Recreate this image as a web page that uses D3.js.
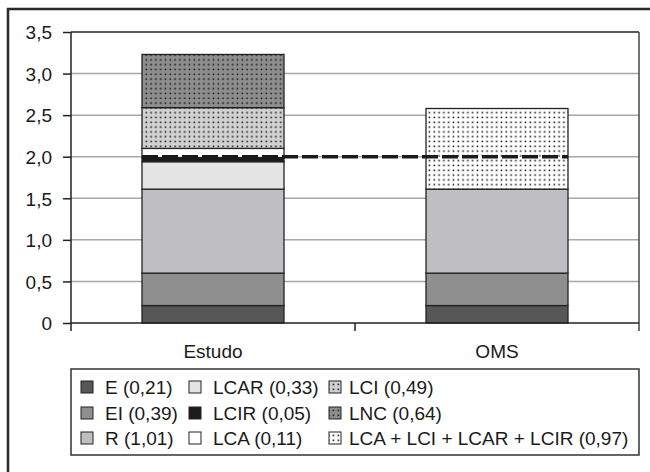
<!DOCTYPE html>
<html>
<head>
<meta charset="utf-8">
<script src="https://cdn.jsdelivr.net/npm/d3@7"></script>
<style>
  body { margin: 0; background: #fff; }
  svg text { font-family: "Liberation Sans", Arial, sans-serif; fill: #1a1a1a; }
</style>
</head>
<body>
<svg id="chart" width="650" height="472"></svg>
<script>
// data
let categories = ["Estudo", "OMS"];
let estudoKeys = ["E", "EI", "R", "LCAR", "LCIR", "LCA", "LCI", "LNC"];
let estudoVals = [0.21, 0.39, 1.01, 0.33, 0.05, 0.11, 0.49, 0.64];
let omsKeys = ["E", "EI", "R", "SUM"];
let omsVals = [0.21, 0.39, 1.01, 0.97];
let legendLabels = [
  ["E", "E (0,21)"], ["EI", "EI (0,39)"], ["R", "R (1,01)"],
  ["LCAR", "LCAR (0,33)"], ["LCIR", "LCIR (0,05)"], ["LCA", "LCA (0,11)"],
  ["LCI", "LCI (0,49)"], ["LNC", "LNC (0,64)"], ["SUM", "LCA + LCI + LCAR + LCIR (0,97)"]
];
let yTicks = [0, 0.5, 1, 1.5, 2, 2.5, 3, 3.5];
let target = 2.0;

let fills = {
  E: "#575757", EI: "#8f8f8f", R: "#bfbfc1", LCAR: "#e4e4e4",
  LCIR: "#1c1c1c", LCA: "#ffffff",
  LCI: "url(#dotsLCI)", LNC: "url(#dotsLNC)", SUM: "url(#dotsSUM)"
};

let svg = d3.select("#chart");
let margin = { left: 71, right: 11, top: 32, bottom: 149 };
let width = 650, height = 472;
let fontSize = 19;

// patterns
let defs = svg.append("defs");
[["dotsLCI", "#d2d2d2"], ["dotsLNC", "#8e8e8e"], ["dotsSUM", "#ffffff"]].forEach(p => {
  let pat = defs.append("pattern")
    .attr("id", p[0])
    .attr("patternUnits", "userSpaceOnUse")
    .attr("width", 4.8).attr("height", 4.8);
  pat.append("rect").attr("width", 4.8).attr("height", 4.8).attr("fill", p[1]);
  pat.append("rect").attr("x", 1.5).attr("y", 1.5).attr("width", 1.6).attr("height", 1.6).attr("fill", "#1a1a1a");
});

// outer frame (top + left)
svg.append("path")
  .attr("d", "M8,472 L8,9 L650,9")
  .attr("fill", "none").attr("stroke", "#2a2a2a").attr("stroke-width", 2.5);

let x = d3.scaleBand()
  .domain(categories)
  .range([margin.left, width - margin.right])
  .paddingInner(0.5)
  .paddingOuter(0.25);

let y = d3.scaleLinear()
  .domain([0, 3.5])
  .range([height - margin.bottom, margin.top]);

let fmt = v => v === 0 ? "0" : d3.format(".1f")(v).replace(".", ",");

// gridlines
svg.append("g")
  .selectAll("line")
  .data(yTicks.filter(t => t > 0 && t < 3.5))
  .enter()
  .append("line")
  .attr("x1", margin.left).attr("x2", width - margin.right)
  .attr("y1", d => y(d)).attr("y2", d => y(d))
  .attr("stroke", "#a8a8a8").attr("stroke-width", 1.5);

// plot border top/right
svg.append("line")
  .attr("x1", margin.left).attr("x2", width - margin.right)
  .attr("y1", y(3.5)).attr("y2", y(3.5))
  .attr("stroke", "#222").attr("stroke-width", 1.5);
svg.append("line")
  .attr("x1", width - margin.right).attr("x2", width - margin.right)
  .attr("y1", y(3.5)).attr("y2", y(0) + 8)
  .attr("stroke", "#444").attr("stroke-width", 1.5);

// y axis
let yAxis = svg.append("g")
  .attr("transform", `translate(${margin.left},0)`)
  .call(d3.axisLeft(y).tickValues(yTicks).tickFormat(fmt).tickSize(8).tickPadding(11));
yAxis.select(".domain").remove();
yAxis.selectAll(".tick line").attr("stroke", "#222").attr("stroke-width", 1.5);
yAxis.selectAll("text").attr("font-size", fontSize).attr("dy", "0.36em");
svg.append("line")
  .attr("x1", margin.left).attr("x2", margin.left)
  .attr("y1", y(3.5)).attr("y2", y(0) + 8)
  .attr("stroke", "#222").attr("stroke-width", 1.5);

// bars
let stacks = [
  { cat: "Estudo", keys: estudoKeys, vals: estudoVals },
  { cat: "OMS", keys: omsKeys, vals: omsVals }
];
stacks.forEach(s => {
  let segs = [];
  let acc = 0;
  s.vals.forEach((v, i) => {
    segs.push({ key: s.keys[i], y0: acc, y1: acc + v });
    acc += v;
  });
  svg.append("g")
    .selectAll("rect")
    .data(segs)
    .enter()
    .append("rect")
    .attr("x", x(s.cat))
    .attr("width", x.bandwidth())
    .attr("y", d => y(d.y1))
    .attr("height", d => y(d.y0) - y(d.y1))
    .attr("fill", d => fills[d.key])
    .attr("stroke", "#222")
    .attr("stroke-width", 1.3);
});

// x axis
svg.append("line")
  .attr("x1", margin.left).attr("x2", width - margin.right)
  .attr("y1", y(0)).attr("y2", y(0))
  .attr("stroke", "#222").attr("stroke-width", 1.5);
let bounds = [margin.left, (margin.left + width - margin.right) / 2, width - margin.right];
svg.append("g")
  .selectAll("line")
  .data(bounds.slice(1, 2))
  .enter()
  .append("line")
  .attr("x1", d => d).attr("x2", d => d)
  .attr("y1", y(0)).attr("y2", y(0) + 8)
  .attr("stroke", "#222").attr("stroke-width", 1.5);
svg.append("g")
  .selectAll("text")
  .data(categories)
  .enter()
  .append("text")
  .attr("x", d => x(d) + x.bandwidth() / 2)
  .attr("y", y(0) + 35)
  .attr("text-anchor", "middle")
  .attr("font-size", fontSize)
  .text(d => d);

// target dashed line
let line = d3.line().x(d => d[0]).y(d => y(d[1]));
svg.append("path")
  .datum([[x("Estudo"), target], [x("OMS") + x.bandwidth(), target]])
  .attr("d", line)
  .attr("fill", "none")
  .attr("stroke", "#1a1a1a")
  .attr("stroke-width", 3.5)
  .attr("stroke-dasharray", "16,4");

// legend
let legend = svg.append("g");
legend.append("rect")
  .attr("x", margin.left).attr("y", 369)
  .attr("width", width - margin.right - margin.left).attr("height", 86)
  .attr("fill", "#fff").attr("stroke", "#333").attr("stroke-width", 1.5);
let colX = [81, 189, 329];
let textX = [105, 213, 349];
let rowY = [387, 413, 438];
let items = legend.selectAll("g.item")
  .data(legendLabels)
  .enter()
  .append("g")
  .attr("class", "item")
  .attr("transform", (d, i) => `translate(0,${rowY[i % 3]})`);
items.append("rect")
  .attr("x", (d, i) => colX[Math.floor(i / 3)])
  .attr("y", -6)
  .attr("width", 12).attr("height", 12)
  .attr("fill", d => fills[d[0]])
  .attr("stroke", "#222").attr("stroke-width", 1);
items.append("text")
  .attr("x", (d, i) => textX[Math.floor(i / 3)])
  .attr("y", 7)
  .attr("font-size", fontSize)
  .text(d => d[1]);
</script>
</body>
</html>
